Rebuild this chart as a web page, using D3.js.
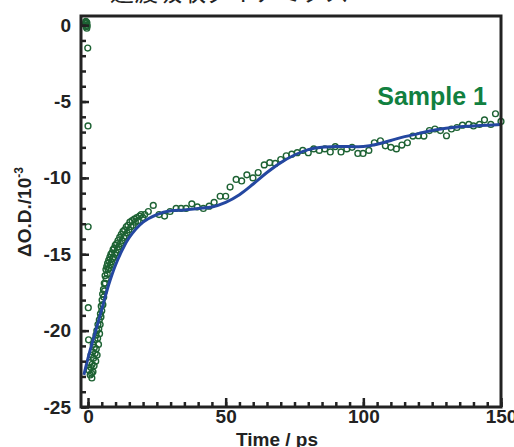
<!DOCTYPE html>
<html>
<head>
<meta charset="UTF-8" />
<title>Sample 1</title>
<script src="https://cdn.jsdelivr.net/npm/d3@7"></script>
<style>
  body { margin: 0; background: #fff; }
  svg { display: block; }
  text { font-family: "Liberation Sans", Arial, sans-serif; font-weight: bold; fill: #222; }
</style>
</head>
<body>
<svg id="vis" width="514" height="447"></svg>
<script>
// mesures (temps en ps, signal en 10^-3)
const tData = [
  -0.9, -0.8, -0.7, -0.6, -0.5, -0.45, -0.4, -0.3,
  -0.1, 0.0, 0.05, 0.1, 0.2,
  0.4, 0.6, 0.8, 1.0, 1.1, 1.3, 1.4, 1.5, 1.7, 1.8, 1.9, 2.0, 2.2, 2.3, 2.5, 2.6, 2.8, 2.9,
  3.0, 3.2, 3.3, 3.5, 3.6, 3.8, 3.9, 4.1, 4.2, 4.4, 4.5, 4.7, 4.8, 5.0, 5.1, 5.3, 5.4, 5.6,
  5.7, 5.9, 6.0, 6.2, 6.3, 6.5, 6.6, 6.8, 7.0, 7.1, 7.3, 7.5, 7.7, 7.9, 8.1, 8.3, 8.5, 8.7,
  8.9, 9.1, 9.3, 9.5, 9.7, 9.9, 10.2, 10.4, 10.7, 10.9, 11.2, 11.5, 11.8, 12.1, 12.4, 12.7,
  13.0, 13.3, 13.6, 13.9, 14.2, 14.5, 14.9, 15.2, 15.6, 16.0, 16.4, 16.8, 17.2, 17.7, 18.2,
  18.7, 19.3, 19.9, 20.6, 21.9, 23.7, 25.8, 27.8,
  29.8, 32.0, 33.8, 35.6, 37.7, 39.7, 41.9, 44.0, 45.8, 48.0, 50.0, 51.6, 53.8, 55.8, 57.7,
  59.9, 61.8, 64.0, 66.0, 68.0, 70.0, 72.0, 74.0, 76.0, 78.0, 80.0, 82.0, 84.0, 86.0, 88.0,
  89.8, 91.9, 94.0, 95.9, 98.0, 99.9, 102.0, 104.0, 106.2, 108.0, 110.0, 112.0, 114.0, 116.0,
  118.0, 120.0, 122.0, 124.0, 126.0, 128.0, 130.2, 132.0, 134.0, 136.0, 138.3, 140.0, 142.2,
  144.0, 146.3, 148.0, 150.0
];
const odData = [
  0.1, 0.25, -0.1, 0.2, 0.0, -0.2, 0.15, -0.05,
  -1.5, -6.6, -13.2, -18.5, -20.6,
  -22.6, -22.1, -22.9, -22.4, -21.6, -22.8, -23.1, -22.2, -21.4, -22.7, -20.9, -21.8, -22.3, -21.1, -20.6, -21.5, -22.0, -20.3,
  -21.2, -20.0, -21.6, -20.5, -19.6, -20.9, -19.9, -19.3, -20.2, -19.6, -18.9, -19.1, -18.4, -18.7, -18.0, -17.6, -18.3, -17.3,
  -17.8, -16.9, -17.4, -16.4, -16.9, -16.0, -16.6, -15.8, -16.3, -15.6, -16.0, -15.4, -15.9, -15.2, -15.7, -15.0, -15.5, -14.9,
  -15.3, -14.7, -15.2, -14.6, -15.0, -14.4, -14.9, -14.3, -14.7, -14.1, -14.5, -13.9, -14.3, -13.7, -14.1, -13.5,
  -13.9, -13.4, -13.8, -13.2, -13.6, -13.1, -13.4, -12.9, -13.2, -12.8, -13.1, -12.7, -12.9, -12.6, -12.8,
  -12.5, -12.4, -12.6, -12.4, -12.2, -11.8, -12.4, -12.5,
  -12.2, -12.0, -12.0, -12.0, -11.7, -11.9, -12.0, -11.85, -11.6, -11.2, -11.2, -10.6, -10.1, -10.2, -9.8,
  -10.0, -9.65, -9.15, -9.0, -9.05, -8.8, -8.55, -8.45, -8.35, -8.2, -8.35, -8.1, -8.2, -8.1, -8.3,
  -7.95, -8.3, -8.1, -8.0, -8.4, -8.4, -8.2, -7.7, -7.57, -7.9, -8.0, -8.1, -7.85, -7.7,
  -7.26, -7.24, -7.26, -6.9, -6.8, -6.9, -7.24, -6.8, -6.7, -6.55, -6.5, -6.6, -6.5,
  -6.2, -6.5, -5.8, -6.3
];

// courbe d'ajustement
const tFit = [-1.5, 0, 2, 5, 7.5, 10, 12.5, 15, 20, 25, 30, 35, 40, 45, 50, 55, 60, 65, 70, 75,
  80, 85, 90, 95, 100, 105, 110, 115, 120, 125, 130, 135, 140, 145, 150];
const odFit = [-22.9, -21.8, -20.5, -18.6, -17.0, -15.7, -14.7, -13.9, -12.9, -12.4, -12.15, -12.1,
  -12.0, -11.9, -11.6, -11.1, -10.4, -9.65, -9.0, -8.5, -8.15, -8.0, -7.95, -7.95, -7.95, -7.8,
  -7.55, -7.3, -7.1, -6.9, -6.75, -6.65, -6.6, -6.55, -6.5];

const xMajor = [0, 50, 100, 150];
const yMajor = [0, -5, -10, -15, -20, -25];

const mLeft = 81, mRight = 501, mTop = 16, mBottom = 407;

const svg = d3.select("#vis");

const x = d3.scaleLinear().domain([-2.55, 150]).range([mLeft, mRight]);
const y = d3.scaleLinear().domain([-25, 0.6]).range([mBottom, mTop]);

// titre coupé en haut
svg.append("text")
  .attr("x", 110).attr("y", 0.5)
  .style("font-family", "'Noto Sans CJK JP', sans-serif")
  .style("font-weight", "normal")
  .style("font-size", "24px")
  .text("過渡吸収ダイナミクス");

// points
svg.append("g")
  .selectAll("circle")
  .data(tData)
  .join("circle")
  .attr("cx", d => x(d))
  .attr("cy", (d, i) => y(odData[i]))
  .attr("r", 2.9)
  .attr("fill", "none")
  .attr("stroke", "#1d6233")
  .attr("stroke-width", 1.4);

// ajustement
const line = d3.line()
  .x((d, i) => x(tFit[i]))
  .y(d => y(d))
  .curve(d3.curveCatmullRom.alpha(0.5));

svg.append("path")
  .attr("d", line(odFit))
  .attr("fill", "none")
  .attr("stroke", "#2447a0")
  .attr("stroke-width", 3);

// axes, graduations vers l'intérieur
const lab = d => String(d);
const xMinorAxis = d3.axisBottom(x).tickValues(d3.range(0, 151, 5)).tickSize(-5).tickFormat("");
const xAxis = d3.axisBottom(x).tickValues(xMajor).tickSize(-9).tickPadding(2).tickFormat(lab);
const yMinorAxis = d3.axisLeft(y).tickValues(d3.range(-25, 1, 1)).tickSize(-5).tickFormat("");
const yAxis = d3.axisLeft(y).tickValues(yMajor).tickSize(-8).tickPadding(10).tickFormat(lab);

function style(g) {
  g.select(".domain").remove();
  g.selectAll(".tick line").attr("stroke", "#222").attr("stroke-width", 2.5);
  g.selectAll(".tick text").style("font-size", "19px").attr("fill", "#222");
}

svg.append("g").attr("transform", `translate(0,${mBottom})`).call(xMinorAxis).call(style);
svg.append("g").attr("transform", `translate(0,${mBottom})`).call(xAxis).call(style);
svg.append("g").attr("transform", `translate(${mLeft},0)`).call(yMinorAxis).call(style);
svg.append("g").attr("transform", `translate(${mLeft},0)`).call(yAxis).call(style);

// cadre
svg.append("rect")
  .attr("x", mLeft).attr("y", mTop)
  .attr("width", mRight - mLeft).attr("height", mBottom - mTop)
  .attr("fill", "none")
  .attr("stroke", "#222")
  .attr("stroke-width", 3);

// titres des axes
svg.append("text")
  .attr("x", 277).attr("y", 446)
  .attr("text-anchor", "middle")
  .style("font-size", "19px")
  .text("Time / ps");

const yl = svg.append("text")
  .attr("transform", "translate(31,212) rotate(-90)")
  .attr("text-anchor", "middle")
  .style("font-size", "19px");
yl.append("tspan").text("ΔO.D./10");
yl.append("tspan").attr("dy", -8).style("font-size", "12px").text("-3");

// légende
svg.append("text")
  .attr("x", 487).attr("y", 105)
  .attr("text-anchor", "end")
  .style("font-size", "25px")
  .style("fill", "#118040")
  .text("Sample 1");
</script>
</body>
</html>
